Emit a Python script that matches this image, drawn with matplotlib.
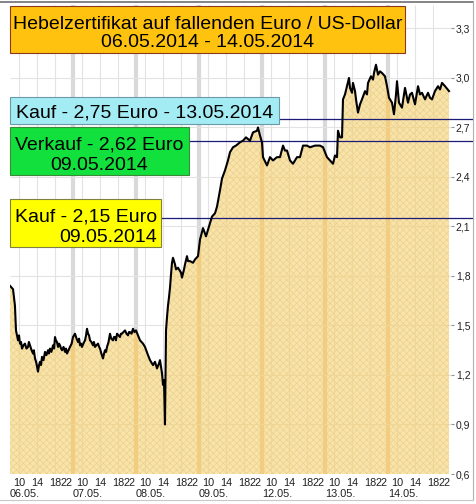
import matplotlib
matplotlib.use('Agg')
import matplotlib.pyplot as plt
import matplotlib.transforms as mtransforms
from matplotlib.patches import Rectangle

plt.rcParams['font.family'] = ['Liberation Sans', 'DejaVu Sans']
plt.rcParams['hatch.linewidth'] = 0.4

# trading days, each runs 08:00 - 22:00 (14 h)
days = ['06.05.', '07.05.', '08.05.', '09.05.', '12.05.', '13.05.', '14.05.']
hour_labels = ['10', '14', '18', '22']
hour_offsets = [2, 6, 10, 14]

y_ticks = [0.6, 0.9, 1.2, 1.5, 1.8, 2.1, 2.4, 2.7, 3.0, 3.3]
y_labels = ['0,6', '0,9', '1,2', '1,5', '1,8', '2,1', '2,4', '2,7', '3,0', '3,3']

# time in trading hours since 06.05. 08:00, price in Euro
t = [0, 0.67, 1.1, 1.33, 1.78, 2.0, 2.22, 2.45, 2.67, 3.0, 3.33, 3.66, 4.0, 4.2,
     4.44, 4.8, 5.11, 5.3, 5.56, 5.8, 6.0, 6.22, 6.45, 6.67, 6.9, 7.11, 7.45, 7.78,
     8.1, 8.44, 8.65, 8.89, 9.2, 9.56, 9.8, 10.0, 10.2, 10.44, 10.67, 10.9, 11.11,
     11.35, 11.56, 11.9, 12.22, 12.45, 12.67, 13.0, 13.33, 13.7, 14.0,
     14.44, 14.8, 15.11, 15.35, 15.56, 15.8, 16.0, 16.3, 16.67, 16.9, 17.11, 17.35,
     17.56, 17.78, 18.1, 18.44, 18.65, 18.89, 19.2, 19.56, 19.8, 20.0, 20.3, 20.67,
     20.9, 21.11, 21.35, 21.56, 21.9, 22.22, 22.5, 22.89, 23.1, 23.33, 23.55, 23.78,
     24.1, 24.44, 24.65, 24.89, 25.2, 25.56, 25.9, 26.22, 26.45, 26.67, 27.0, 27.33,
     27.65, 28.0,
     28.44, 28.89, 29.56, 30.0, 30.67, 31.11, 31.78, 32.22, 32.67, 33.11, 33.33,
     33.78, 34.0, 34.22, 34.44, 34.67, 34.89, 35.11, 35.33, 35.56, 35.78, 36.0,
     36.22, 36.67, 36.89, 37.33, 37.56, 38.0, 38.22, 38.67, 38.89, 39.33, 39.56,
     40.0, 40.67, 41.11, 41.78,
     42.22, 42.89, 43.56, 44.22, 44.89, 45.56, 46.0, 46.67, 47.11, 47.78, 48.44,
     48.89, 49.56, 50.22, 51.11, 51.78, 52.44, 53.33, 54.0, 54.89, 55.11, 55.56, 56.0,
     56.22, 57.11, 57.78, 58.44, 59.33, 60.0, 60.67, 61.11, 61.56, 62.22, 62.89,
     63.78, 64.44, 65.11, 66.0, 66.67, 67.78, 68.89, 69.56, 70.44,
     71.11, 71.78, 72.22, 72.67, 72.89, 73.33, 73.78, 74.0, 74.44, 74.89, 75.33,
     75.56, 76.0, 76.22, 76.67, 76.89, 77.33, 77.78, 78.22, 78.89, 79.33, 79.56,
     80.22, 80.67, 80.89, 81.33, 81.78, 82.22, 82.67, 83.33, 83.78,
     84.22, 84.89, 85.33, 85.78, 86.0, 86.44, 87.11, 87.78, 88.44, 88.89, 89.33,
     90.0, 90.67, 91.11, 91.56, 92.22, 92.89, 93.33, 93.78, 94.44, 95.11, 95.56,
     96.0, 96.67, 97.56]
price = [1.74, 1.72, 1.62, 1.47, 1.41, 1.44, 1.39, 1.40, 1.36, 1.38, 1.39, 1.36, 1.37, 1.40,
         1.38, 1.35, 1.33, 1.35, 1.30, 1.28, 1.25, 1.22, 1.26, 1.28, 1.26, 1.31, 1.29, 1.34,
         1.32, 1.35, 1.33, 1.36, 1.34, 1.38, 1.36, 1.43, 1.41, 1.40, 1.37, 1.39, 1.38,
         1.36, 1.35, 1.37, 1.34, 1.36, 1.33, 1.35, 1.37, 1.39, 1.43,
         1.45, 1.42, 1.40, 1.42, 1.38, 1.39, 1.37, 1.39, 1.41, 1.44, 1.48, 1.45,
         1.44, 1.41, 1.40, 1.38, 1.40, 1.37, 1.38, 1.39, 1.37, 1.36, 1.33, 1.30,
         1.33, 1.35, 1.34, 1.37, 1.40, 1.45, 1.42, 1.41, 1.43, 1.43, 1.41, 1.45,
         1.44, 1.43, 1.45, 1.45, 1.46, 1.47, 1.45, 1.44, 1.46, 1.46, 1.45, 1.48,
         1.46, 1.47,
         1.44, 1.41, 1.39, 1.37, 1.32, 1.29, 1.26, 1.28, 1.24, 1.27, 1.29,
         1.21, 1.14, 1.17, 0.90, 1.47, 1.55, 1.62, 1.67, 1.73, 1.81, 1.88,
         1.91, 1.87, 1.84, 1.85, 1.84, 1.82, 1.79, 1.84, 1.87, 1.92, 1.89,
         1.89, 1.88, 1.90, 1.92,
         2.02, 2.09, 2.04, 2.10, 2.16, 2.18, 2.22, 2.32, 2.39, 2.44, 2.50,
         2.55, 2.58, 2.59, 2.61, 2.62, 2.64, 2.62, 2.67, 2.68, 2.70, 2.65, 2.61,
         2.52, 2.47, 2.52, 2.50, 2.52, 2.52, 2.59, 2.56, 2.56, 2.50, 2.48,
         2.52, 2.52, 2.59, 2.59, 2.58, 2.59, 2.59, 2.58, 2.52,
         2.50, 2.48, 2.53, 2.52, 2.68, 2.64, 2.64, 2.87, 2.90, 2.95, 3.00,
         2.94, 2.91, 2.97, 2.92, 2.87, 2.79, 2.84, 2.87, 2.92, 2.90, 2.97,
         3.01, 2.99, 3.03, 3.08, 3.02, 3.04, 3.03, 3.01, 2.95,
         2.88, 2.85, 2.78, 2.90, 2.98, 2.85, 2.82, 2.94, 2.85, 2.90, 2.91,
         2.84, 2.95, 2.90, 2.91, 2.87, 2.91, 2.88, 2.87, 2.92, 2.95, 2.93,
         2.97, 2.95, 2.92]

levels = [2.75, 2.62, 2.15]

W, H = 476, 504
fig = plt.figure(figsize=(W / 100, H / 100), dpi=100)
fig.patch.set_facecolor('white')
ax = fig.add_axes([10 / W, 30 / H, 441 / W, 469 / H])
ax.set_xlim(0, 98)
ax.set_ylim(0.6, 3.442)
for s in ax.spines.values():
    s.set_visible(False)

n_days = len(days)
thin_x = [d * 14 + o for d in range(n_days) for o in hour_offsets[:3]] + [98]
sep_x = [d * 14 for d in range(1, n_days)]

# grid in the empty (white) area
ax.vlines(thin_x, 0.6, 3.442, color='#e3e3e3', lw=0.8, zorder=1)
ax.vlines(sep_x, 0.6, 3.442, color='#d9d9d9', lw=3.0, zorder=1)
ax.hlines(y_ticks[1:], 0, 98, color='#e3e3e3', lw=0.8, zorder=1)

# filled area under the price
fill = ax.fill_between(t, price, 0.6, facecolor='#f8e4aa', edgecolor='#eacd88',
                       hatch='xxxxx', lw=0, zorder=2)
clip = fill.get_paths()[0]
g1 = ax.vlines(thin_x, 0.6, 3.442, color='#efd596', lw=0.8, zorder=3)
g2 = ax.vlines(sep_x, 0.6, 3.442, color='#f2cc80', lw=3.0, zorder=3)
g3 = ax.hlines(y_ticks[1:], 0, 98, color='#efd596', lw=0.8, zorder=3)
for g in (g1, g2, g3):
    g.set_clip_path(clip, transform=ax.transData)

ax.plot(t, price, color='black', lw=1.5, zorder=5)

# signal lines reaching to the right border
trans_line = mtransforms.blended_transform_factory(fig.transFigure, ax.transData)
line_start = [279, 189, 161]
for lv, x0 in zip(levels, line_start):
    ax.plot([x0 / W, 472 / W], [lv, lv], color='#1c1c78', lw=0.9,
            transform=trans_line, clip_on=False, zorder=4)

ax.set_yticks(y_ticks)
ax.set_yticklabels(y_labels)
ax.yaxis.tick_right()
ax.tick_params(axis='y', length=2, pad=1.5, labelsize=7.5, color='#909090',
               labelcolor='#202020')
ax.set_xticks([])

# time axis labels
trans_x = mtransforms.blended_transform_factory(ax.transData, fig.transFigure)
for d, name in enumerate(days):
    for lab, off in zip(hour_labels, hour_offsets):
        if lab == '22':
            ax.text(d * 14 + off - 0.1, 1 - 486 / H, lab, transform=trans_x,
                    ha='right', va='baseline', fontsize=7.8, color='#202020')
        else:
            ax.text(d * 14 + off, 1 - 486 / H, lab, transform=trans_x,
                    ha='center', va='baseline', fontsize=7.8, color='#202020')
    ax.text(d * 14, 1 - 497 / H, name, transform=trans_x, ha='left',
            va='baseline', fontsize=7.8, color='#202020')


def box(x0, y0, x1, y1, face, edge):
    fig.add_artist(Rectangle((x0 / W, 1 - y1 / H), (x1 - x0) / W, (y1 - y0) / H,
                             transform=fig.transFigure, facecolor=face,
                             edgecolor=edge, lw=0.8, zorder=6))


def label(x, y, s, ha='center'):
    fig.text(x / W, 1 - y / H, s, ha=ha, va='baseline', fontsize=14,
             color='black', zorder=7)


box(10, 6, 405, 53, '#ffc20e', '#8b3a1a')
label(208, 29, 'Hebelzertifikat auf fallenden Euro / US-Dollar')
label(208, 47, '06.05.2014 - 14.05.2014')

box(10, 97, 279, 124, '#a4ecf4', '#6a9aaa')
label(144.5, 118, 'Kauf - 2,75 Euro - 13.05.2014')

box(10, 127, 189, 175, '#12e03c', '#3a8a3a')
label(99.5, 150, 'Verkauf - 2,62 Euro')
label(99.5, 170, '09.05.2014')

box(10, 199, 161, 247, '#ffff00', '#808040')
label(157, 222, 'Kauf - 2,15 Euro', ha='right')
label(157, 242, '09.05.2014', ha='right')

# outer frame
fig.add_artist(plt.Line2D([0, 473 / W], [1 - 1.5 / H, 1 - 1.5 / H],
                          transform=fig.transFigure, color='#707070', lw=1.2))
fig.add_artist(plt.Line2D([472.5 / W, 472.5 / W], [1 - 499 / H, 1 - 1.5 / H],
                          transform=fig.transFigure, color='#b0b0b0', lw=0.8))
fig.add_artist(plt.Line2D([0, 473 / W], [1 - 499.5 / H, 1 - 499.5 / H],
                          transform=fig.transFigure, color='#c8c8c8', lw=0.8))

fig.savefig('out.png', dpi=100)
